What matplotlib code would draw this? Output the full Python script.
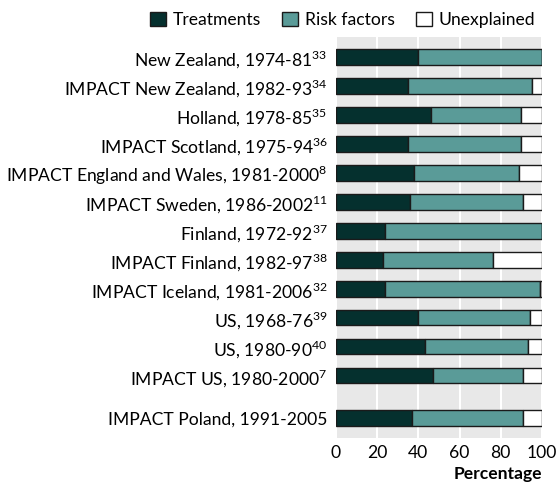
import matplotlib
matplotlib.use("Agg")
import matplotlib.pyplot as plt
import numpy as np

# data
studies = ["New Zealand, 1974-81", "IMPACT New Zealand, 1982-93", "Holland, 1978-85",
           "IMPACT Scotland, 1975-94", "IMPACT England and Wales, 1981-2000",
           "IMPACT Sweden, 1986-2002", "Finland, 1972-92", "IMPACT Finland, 1982-97",
           "IMPACT Iceland, 1981-2006", "US, 1968-76", "US, 1980-90",
           "IMPACT US, 1980-2000", "IMPACT Poland, 1991-2005"]
refs = ["33", "34", "35", "36", "8", "11", "37", "38", "32", "39", "40", "7", ""]
treatments = [40, 35, 46, 35, 38, 36, 24, 23, 24, 40, 43, 47, 37]
risk_factors = [60, 60, 44, 55, 51, 55, 76, 53, 75, 54, 50, 44, 54]
unexplained = [0, 5, 10, 10, 11, 9, 0, 24, 1, 6, 7, 9, 9]

plt.rcParams['font.family'] = ['Lato', 'DejaVu Sans']
fs = 12.6

dark = "#05302e"
teal = "#5a9b98"

# rows 0..11, then a gap before Poland
ypos = np.array(list(range(12)) + [12.45])
treatments = np.array(treatments)
risk_factors = np.array(risk_factors)
unexplained = np.array(unexplained)

fig = plt.figure(figsize=(5.58, 4.93), dpi=100)
ax = fig.add_axes([336/558, 1 - 438/493, 206/558, 401/493])
ax.set_facecolor("#e8e8e8")

h = 0.52
ax.barh(ypos, treatments, height=h, color=dark, edgecolor="#1a1a1a", linewidth=1, label="Treatments", zorder=3)
ax.barh(ypos, risk_factors, left=treatments, height=h, color=teal, edgecolor="#1a1a1a", linewidth=1,
        label="Risk factors", zorder=3)
ax.barh(ypos, unexplained, left=treatments + risk_factors, height=h, color="white", edgecolor="#1a1a1a",
        linewidth=1, label="Unexplained", zorder=3)

ax.set_xlim(0, 100)
ax.set_ylim(12.45 + 0.69, -0.69)
ax.set_xticks([0, 20, 40, 60, 80, 100])
ax.tick_params(axis="both", length=0, labelsize=fs, colors="black")
ax.tick_params(axis="x", pad=5)
ax.tick_params(axis="y", pad=6)
ax.xaxis.grid(True, color="white", linewidth=1.5, zorder=0)
ax.set_axisbelow(True)
for s in ax.spines.values():
    s.set_visible(False)

labels = []
for s, r in zip(studies, refs):
    if r:
        labels.append(s + r"$^{\mathregular{" + r + "}}$")
    else:
        labels.append(s)
ax.set_yticks(ypos)
ax.set_yticklabels(labels)

ax.set_xlabel("Percentage", fontsize=fs, fontweight="bold", loc="right", labelpad=4)

leg = ax.legend(loc="lower right", bbox_to_anchor=(1.01, 1.0), ncol=3, frameon=False, fontsize=fs,
                handlelength=0.9, handleheight=0.9, handletextpad=0.4, columnspacing=1.2,
                borderaxespad=0.1)

fig.savefig("out.png", dpi=100)
